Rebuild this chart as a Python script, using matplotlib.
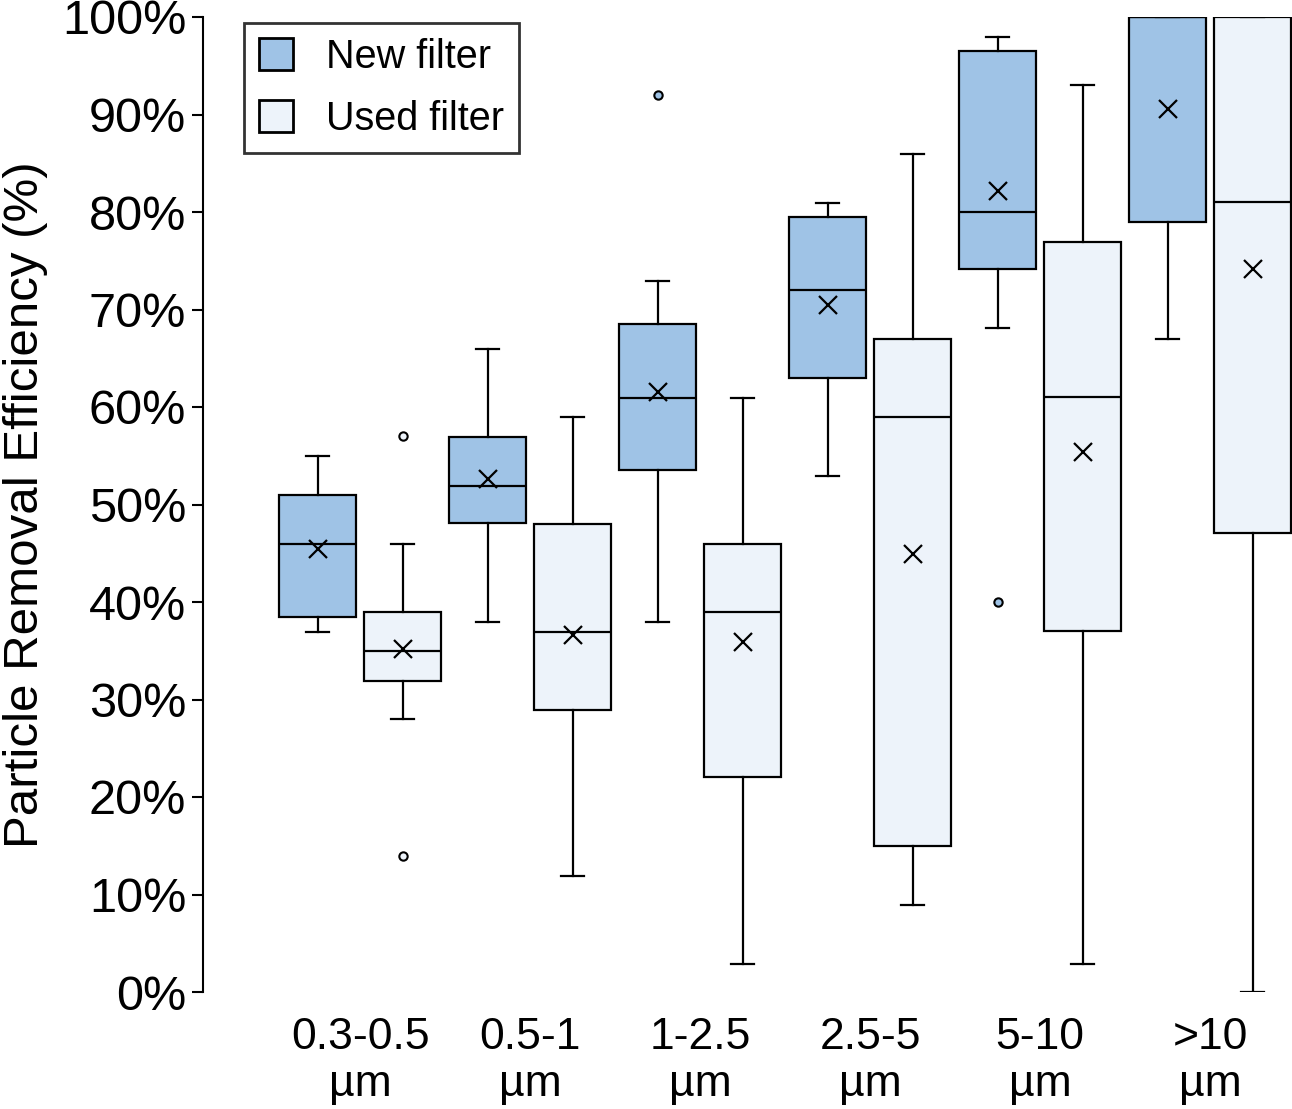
import matplotlib.pyplot as plt
from matplotlib.patches import Patch

plt.rcParams['font.family'] = ['Liberation Sans', 'DejaVu Sans']

# size ranges
groups = ['0.3-0.5\nµm', '0.5-1\nµm', '1-2.5\nµm', '2.5-5\nµm', '5-10\nµm', '>10\nµm']

# new filter: whislo, q1, med, q3, whishi, mean
new_lo = [36.9, 37.9, 37.9, 52.9, 68.1, 67.0]
new_q1 = [38.5, 48.1, 53.5, 63.0, 74.2, 79.0]
new_med = [45.9, 51.9, 60.9, 72.0, 80.0, 100.0]
new_q3 = [51.0, 56.9, 68.5, 79.5, 96.5, 100.0]
new_hi = [55.0, 65.9, 72.9, 80.9, 98.0, 100.0]
new_mean = [45.4, 52.6, 61.5, 70.5, 82.2, 90.6]
new_out = [[], [], [92.0], [], [40.0], []]

# used filter
used_lo = [28.0, 11.9, 2.9, 8.9, 2.9, 0.0]
used_q1 = [31.9, 28.9, 22.1, 15.0, 37.0, 47.1]
used_med = [35.0, 36.9, 39.0, 59.0, 61.0, 81.0]
used_q3 = [39.0, 48.0, 45.9, 67.0, 76.9, 100.0]
used_hi = [46.0, 59.0, 60.9, 85.9, 93.0, 100.0]
used_mean = [35.2, 36.6, 35.9, 44.9, 55.4, 74.2]
used_out = [[57.0, 13.9], [], [], [], [], []]

c_new = '#9fc3e6'
c_used = '#edf3fa'


def stats(lo, q1, med, q3, hi, mean, out):
    res = []
    for i in range(len(lo)):
        res.append(dict(whislo=lo[i], q1=q1[i], med=med[i], q3=q3[i],
                        whishi=hi[i], mean=mean[i], fliers=out[i]))
    return res


fig = plt.figure(figsize=(12.92, 11.09), dpi=100)
ax = fig.add_axes([203 / 1292, 117 / 1109, 1089 / 1292, 975 / 1109])

pos = list(range(len(groups)))
for st, off, col in [(stats(new_lo, new_q1, new_med, new_q3, new_hi, new_mean, new_out), -0.25, c_new),
                     (stats(used_lo, used_q1, used_med, used_q3, used_hi, used_mean, used_out), 0.25, c_used)]:
    ax.bxp(st, positions=[p + off for p in pos], widths=0.453, patch_artist=True,
           showmeans=True, showfliers=True,
           boxprops=dict(facecolor=col, edgecolor='black', linewidth=1.6),
           medianprops=dict(color='black', linewidth=1.6),
           whiskerprops=dict(color='black', linewidth=1.6),
           capprops=dict(color='black', linewidth=1.6),
           capwidths=0.14,
           meanprops=dict(marker='x', markeredgecolor='black', markersize=13, markeredgewidth=1.6),
           flierprops=dict(marker='o', markersize=6, markerfacecolor=col,
                           markeredgecolor='black', markeredgewidth=1.5))

ax.set_xlim(-0.924, 5.482)
ax.set_ylim(0, 100)
ax.set_yticks(range(0, 101, 10))
ax.set_yticklabels([f'{v}%' for v in range(0, 101, 10)])
ax.set_xticks(pos)
ax.set_xticklabels(groups, linespacing=1.2)
ax.tick_params(axis='y', labelsize=35, length=8, width=1.5, direction='out', pad=4)
ax.tick_params(axis='x', labelsize=32, length=0, pad=18)
for s in ['top', 'right', 'bottom']:
    ax.spines[s].set_visible(False)
ax.spines['left'].set_linewidth(1.5)
ax.set_ylabel('Particle Removal Efficiency (%)', fontsize=35.5, labelpad=10)

handles = [Patch(facecolor=c_new, edgecolor='black', linewidth=2, label='New filter'),
           Patch(facecolor=c_used, edgecolor='black', linewidth=2, label='Used filter')]
leg = ax.legend(handles=handles, loc='upper left', bbox_to_anchor=(0.0376, 0.994),
                borderaxespad=0, fontsize=28.5, frameon=True, fancybox=False,
                edgecolor='black', handlelength=0.85, handleheight=0.85,
                handletextpad=0.85, borderpad=0.38, labelspacing=0.6)
leg.get_frame().set_linewidth(2)

fig.savefig('out.png', dpi=100)
